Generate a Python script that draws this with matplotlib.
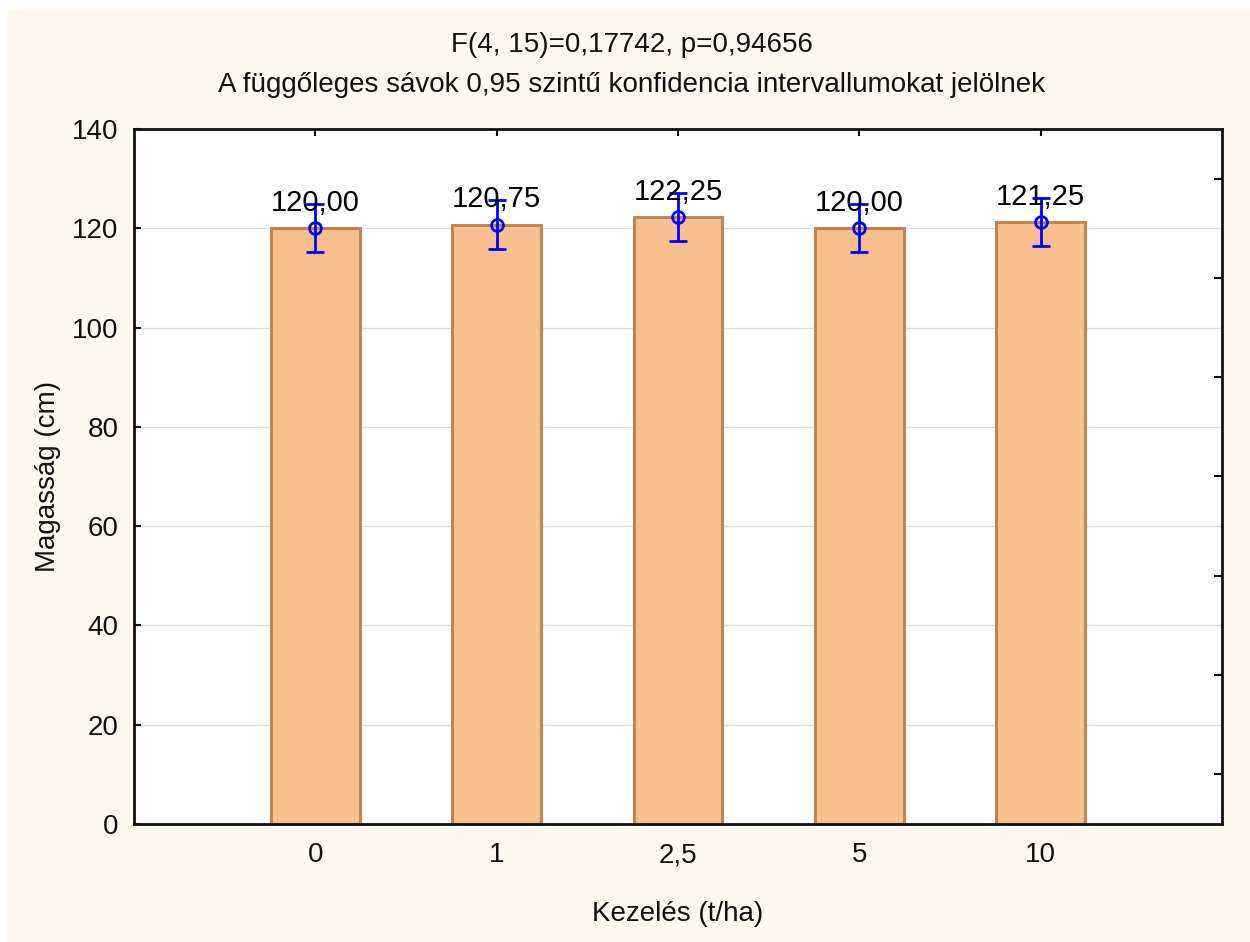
import numpy as np
import matplotlib
matplotlib.use("Agg")
import matplotlib.pyplot as plt
from matplotlib.patches import Rectangle

plt.rcParams['font.family'] = ['Liberation Sans', 'DejaVu Sans']

# treatment doses and mean plant heights
kezeles = ['0', '1', '2,5', '5', '10']
magassag = [120.00, 120.75, 122.25, 120.00, 121.25]
ci95 = [4.85, 4.85, 4.85, 4.85, 4.85]

cim1 = "F(4, 15)=0,17742, p=0,94656"
cim2 = "A függőleges sávok 0,95 szintű konfidencia intervallumokat jelölnek"

fs = 20

fig = plt.figure(figsize=(12.5, 9.42), dpi=100, facecolor='white')
# cream panel behind everything
fig.add_artist(Rectangle((7/1250, 0), 1 - 7/1250, 1 - 10/942,
                         transform=fig.transFigure, facecolor='#fdf9ee',
                         edgecolor='none', zorder=-10))

ax = fig.add_axes([0.1072, 0.1253, 0.8704, 0.7378])
ax.set_zorder(2)
ax.set_facecolor('white')

x = np.arange(len(kezeles))
ax.bar(x, magassag, width=0.49, color='#f8c08f', edgecolor='#c08552',
       linewidth=2.2, zorder=2)
ax.errorbar(x, magassag, yerr=ci95, fmt='o', color='#0000ff', mfc='none',
            mec='#0000ff', ms=8.5, mew=2, elinewidth=2, capsize=6.5,
            capthick=2, zorder=3)
for xi, m, c in zip(x, magassag, ci95):
    ax.text(xi, m + c + 0.2, ('%.2f' % m).replace('.', ','), ha='center',
            va='center', fontsize=fs + 1, color='black', zorder=4)

ax.set_xlim(-1, 5)
ax.set_ylim(0, 140)
ax.set_xticks(x)
ax.set_xticklabels(kezeles)
ax.set_yticks(np.arange(0, 141, 20))
ax.set_yticks(np.arange(10, 140, 20), minor=True)
ax.grid(axis='y', color='#dcdcdc', linewidth=1, zorder=0)
ax.set_axisbelow(True)

ax.tick_params(axis='x', direction='in', top=True, length=5, width=1.5,
               labelsize=fs, pad=13, colors='#111111')
ax.tick_params(axis='y', which='major', direction='in', left=True,
               right=False, length=5, width=1.5, labelsize=fs, pad=11,
               colors='#111111')
ax.tick_params(axis='y', which='minor', direction='in', left=False,
               right=True, length=6, width=1.5)
for s in ax.spines.values():
    s.set_linewidth(2)
    s.set_color('#111111')

ax.set_xlabel("Kezelés (t/ha)", fontsize=fs, labelpad=24, color='#111111')
ax.set_ylabel("Magasság (cm)", fontsize=fs, labelpad=8, color='#111111')

fig.text(632/1250, 1 - 45/942, cim1, ha='center', va='center', fontsize=fs,
         color='#111111')
fig.text(632/1250, 1 - 85/942, cim2, ha='center', va='center', fontsize=fs,
         color='#111111')

fig.savefig('out.png', dpi=100, facecolor=fig.get_facecolor())
